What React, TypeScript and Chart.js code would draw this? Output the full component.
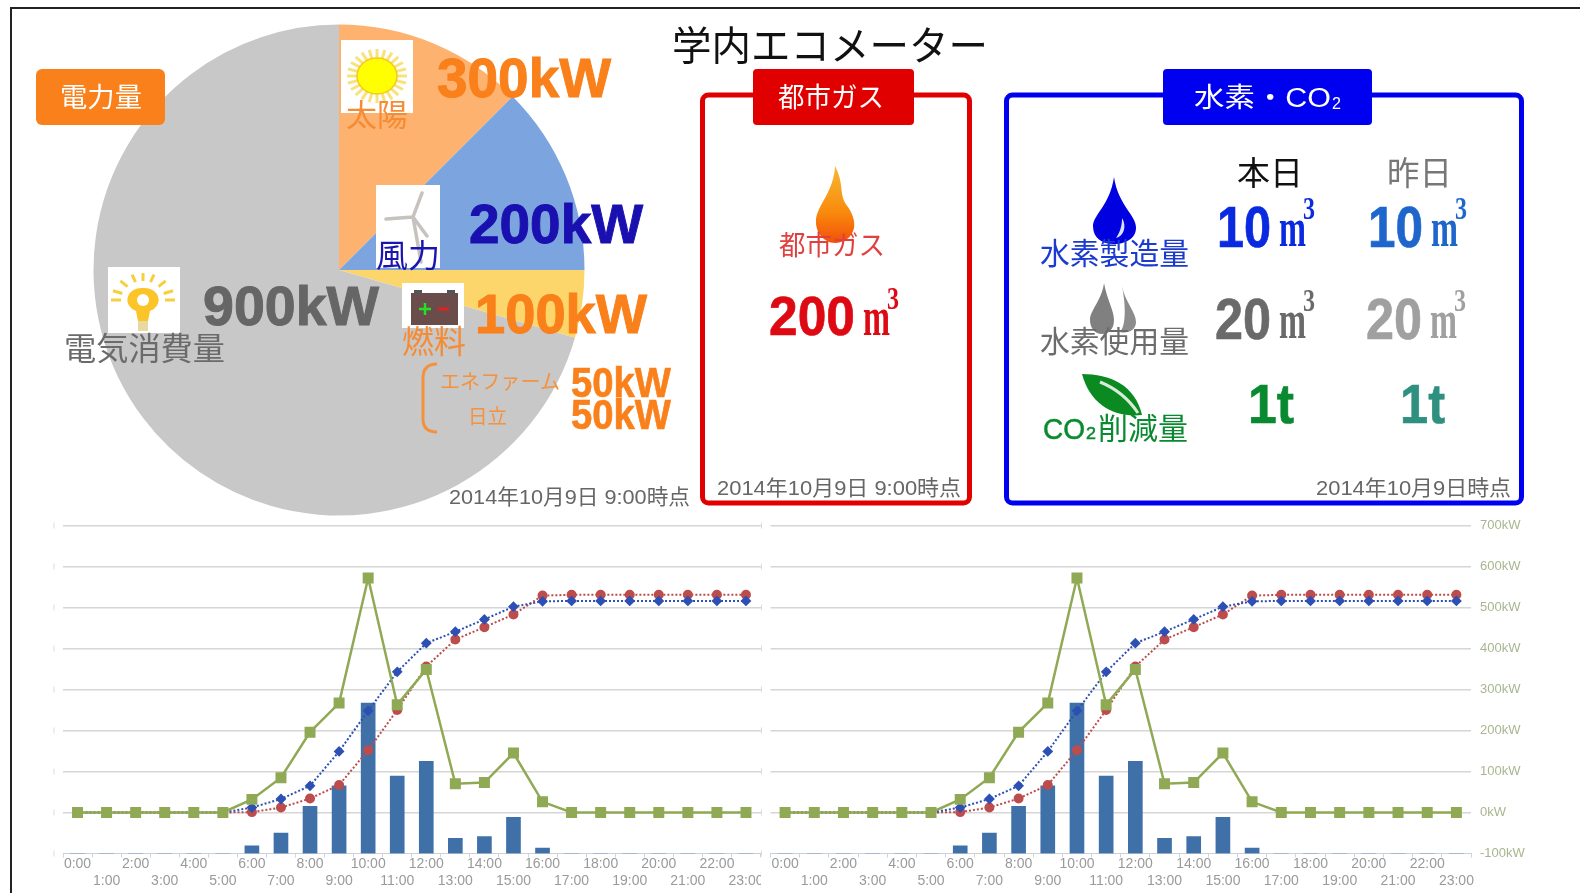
import React, { useEffect, useRef } from "react";
import { Chart, registerables } from "chart.js";

Chart.register(...registerables);

// ---- data ----
const hours = ["0:00","1:00","2:00","3:00","4:00","5:00","6:00","7:00","8:00","9:00","10:00","11:00","12:00","13:00","14:00","15:00","16:00","17:00","18:00","19:00","20:00","21:00","22:00","23:00"];
const greenLine = [0,0,0,0,0,0,32,85,196,267,572,263,349,70,73,145,26,0,0,0,0,0,0,0];
const blueLine = [0,0,0,0,0,0,12,33,65,149,248,343,413,441,471,502,515,516,516,516,516,516,516,516];
const redLine = [0,0,0,0,0,0,1,12,34,67,152,250,356,422,452,483,529,531,531,531,531,531,531,531];
const barValues = [0,0,0,0,0,0,19,50,115,165,367,189,225,37,41,88,13,0,0,0,0,0,0,0];
const pieLabels = ["太陽","風力","燃料","電気消費量"];
const pieDegrees = [45,45,16,254];
const pieColors = ["#fdb26f","#7ca5e0","#fdd66b","#c8c8c8"];
const powerTexts = ["300kW","200kW","100kW","900kW"];

const SANS = '"Liberation Sans","Noto Sans CJK JP",sans-serif';
const SERIF = '"Liberation Serif",serif';

function T({ x, w, cy, size, fill, bold, serif, sy, heavy, children }: any) {
  const scale = sy || 1;
  const by = cy + size * 0.36 * scale;
  return (
    <text
      x={0}
      y={0}
      transform={`translate(${x} ${by}) scale(1 ${scale})`}
      fontSize={size}
      fill={fill}
      stroke={heavy ? fill : "none"}
      strokeWidth={heavy || 0}
      fontWeight={bold ? 700 : 400}
      fontFamily={serif ? SERIF : SANS}
      textLength={w}
      lengthAdjust="spacingAndGlyphs"
    >
      {children}
    </text>
  );
}

function Cubic({ x, numW, cy, text, color, numSize }: any) {
  const mx = x + numW + 8;
  return (
    <g>
      <T x={x} w={numW} cy={cy} size={numSize} fill={color} bold sy={1.15} heavy={0.6}>{text}</T>
      <T x={mx} w={27} cy={cy} size={38} fill={color} serif bold sy={1.45}>m</T>
      <T x={mx + 24} w={12} cy={cy - 18} size={28} fill={color} serif bold sy={1.1}>3</T>
    </g>
  );
}

function PowerPie() {
  const ref = useRef<HTMLCanvasElement>(null);
  useEffect(() => {
    const chart = new Chart(ref.current!, {
      type: "pie",
      data: {
        labels: pieLabels,
        datasets: [{ data: pieDegrees, backgroundColor: pieColors, borderWidth: 0 }],
      },
      options: {
        responsive: false,
        animation: false,
        radius: 245.5,
        layout: { padding: 0 },
        plugins: { legend: { display: false }, tooltip: { enabled: false } },
      } as any,
    });
    return () => chart.destroy();
  }, []);
  return <canvas ref={ref} width={500} height={500} style={{ position: "absolute", left: 89, top: 20 }} />;
}

function TrendChart({ left, width, padLeft, showAxis, clipRight }: any) {
  const ref = useRef<HTMLCanvasElement>(null);
  useEffect(() => {
    const marks = {
      id: "edgeMarks",
      afterDraw(c: any) {
        const s = c.scales.y;
        const ctx = c.ctx;
        ctx.save();
        ctx.strokeStyle = "#dcdcdc";
        ctx.lineWidth = 1;
        s.ticks.forEach((t: any) => {
          const p = s.getPixelForValue(t.value);
          ctx.beginPath();
          ctx.moveTo(padLeft - 9, p - 3);
          ctx.lineTo(padLeft - 9, p + 3);
          ctx.stroke();
        });
        ctx.restore();
      },
    };
    const chart = new Chart(ref.current!, {
      type: "bar",
      data: {
        labels: hours.map((h, i) => (i % 2 === 0 ? [h, ""] : ["", h])),
        datasets: [
          { type: "line", label: "発電", data: greenLine, yAxisID: "y", order: 1, borderColor: "#8fa954", backgroundColor: "#8fa954", borderWidth: 2.5, pointStyle: "rect", pointRadius: 6, tension: 0 },
          { type: "line", label: "累積A", data: blueLine, yAxisID: "y", order: 2, borderColor: "#2d50b4", backgroundColor: "#2d50b4", borderWidth: 2, borderDash: [2, 2], pointStyle: "rectRot", pointRadius: 4, tension: 0 },
          { type: "line", label: "累積B", data: redLine, yAxisID: "y", order: 3, borderColor: "#bd4c4c", backgroundColor: "#bd4c4c", borderWidth: 2, borderDash: [2, 2], pointStyle: "circle", pointRadius: 4, tension: 0 },
          { type: "bar", label: "電力", data: barValues, yAxisID: "yBar", order: 4, backgroundColor: "#3f70a8", barThickness: 14 },
        ],
      },
      options: {
        responsive: false,
        animation: false,
        layout: { padding: { left: padLeft, top: 15.5, right: 0, bottom: 0 } },
        plugins: { legend: { display: false }, tooltip: { enabled: false } },
        scales: {
          x: {
            offset: true,
            afterFit: (s: any) => { s.height = 39.5; s.paddingLeft = 0; s.paddingRight = 0; },
            grid: { offset: true, drawOnChartArea: false, drawTicks: true, tickLength: 4, color: "#d0d6dc" },
            border: { color: "#c8d0d8" },
            ticks: { autoSkip: false, maxRotation: 0, minRotation: 0, padding: -1.5, color: "#9a9a9a", font: { family: "Liberation Sans", size: 14 } },
          },
          y: {
            position: "right",
            min: -100,
            max: 700,
            afterFit: (s: any) => { s.width = showAxis ? 109 : 0; s.paddingTop = 0; s.paddingBottom = 0; },
            grid: { drawTicks: false, color: "#d6d6d6", lineWidth: (c: any) => (c.tick && c.tick.value === -100 ? 0 : 1.6) },
            border: { display: false },
            ticks: {
              display: showAxis,
              stepSize: 100,
              padding: 9,
              color: "#a8b690",
              font: { family: "Liberation Sans", size: 13 },
              callback: (v: any) => `${v}kW`,
            },
          },
          yBar: { axis: "y", display: false, min: 0, max: 800 },
        },
      } as any,
      plugins: [marks],
    });
    return () => chart.destroy();
  }, []);
  return (
    <canvas
      ref={ref}
      width={width}
      height={383}
      style={{ position: "absolute", left, top: 510, clipPath: clipRight ? `inset(0 ${clipRight}px 0 0)` : undefined }}
    />
  );
}

function Overlay() {
  const orange = "#f9801a";
  return (
    <svg width={1580} height={893} style={{ position: "absolute", left: 0, top: 0, pointerEvents: "none" }}>
      <defs>
        <linearGradient id="flame" x1="0" y1="0" x2="0" y2="1">
          <stop offset="0" stopColor="#f7b733" />
          <stop offset="0.6" stopColor="#f98a0c" />
          <stop offset="1" stopColor="#f2500a" />
        </linearGradient>
      </defs>
      {/* frame */}
      <path d="M11 893 V8 H1580" fill="none" stroke="#222" strokeWidth={2} />

      {/* title */}
      <T x={672} w={316} cy={46} size={40} fill="#111">学内エコメーター</T>

      {/* badge power */}
      <rect x={36} y={69} width={129} height={56} rx={6} fill={orange} />
      <T x={60} w={82} cy={97} size={27} fill="#fff">電力量</T>

      {/* sun */}
      <rect x={341} y={40} width={72} height={73} fill="#fff" />
      {Array.from({ length: 24 }).map((_, i) => {
        const a = (i * Math.PI) / 12;
        return (
          <line key={i} x1={377 + Math.cos(a) * 20} y1={76 + Math.sin(a) * 18} x2={377 + Math.cos(a) * 30} y2={76 + Math.sin(a) * 27} stroke="#f8e27a" strokeWidth={3} />
        );
      })}
      <ellipse cx={377} cy={76} rx={20} ry={18} fill="#ffff00" stroke="#f4c820" strokeWidth={1.5} />
      <T x={346} w={62} cy={115} size={31} fill="#f58c35">{pieLabels[0]}</T>
      <T x={437} w={174} cy={77} size={55} fill={orange} bold heavy={1}>{powerTexts[0]}</T>

      {/* wind */}
      <rect x={376} y={185} width={64} height={83} fill="#fff" />
      <path d="M413 217 L422 193 M413 217 L386 219 M413 217 L427 236 M413 217 L421 262" stroke="#c6c2be" strokeWidth={3.5} strokeLinecap="round" fill="none" />
      <T x={376} w={64} cy={255} size={32} fill="#1a14b0">{pieLabels[1]}</T>
      <T x={469} w={174} cy={223} size={55} fill="#1a10b0" bold heavy={1}>{powerTexts[1]}</T>

      {/* bulb */}
      <rect x={108} y={267} width={72} height={66} fill="#fff" />
      {[-70, -45, -20, 0, 20, 45, 70, -90, 90].map((d) => {
        const a = ((d - 90) * Math.PI) / 180;
        return <line key={d} x1={143 + Math.cos(a) * 22} y1={300 + Math.sin(a) * 19} x2={143 + Math.cos(a) * 32} y2={300 + Math.sin(a) * 27} stroke="#f6cf3d" strokeWidth={3} />;
      })}
      <path d="M143 288 a14 12 0 0 1 7 23 l-2 10 h-10 l-2 -10 a14 12 0 0 1 7 -23 z" fill="#fbc52a" />
      <ellipse cx={143} cy={300} rx={6} ry={6} fill="#fff" />
      <rect x={138} y={321} width={10} height={10} fill="#e8d9a0" />
      <T x={64} w={161} cy={348} size={32} fill="#6b6b6b">{pieLabels[3]}</T>
      <T x={203} w={176} cy={305} size={55} fill="#666" bold heavy={1}>{powerTexts[3]}</T>

      {/* battery */}
      <rect x={402} y={283} width={62} height={45} fill="#fff" />
      <rect x={411} y={293} width={47} height={32} fill="#6a4c4a" />
      <rect x={414} y={290} width={8} height={4} fill="#555" />
      <rect x={447} y={290} width={8} height={4} fill="#555" />
      <path d="M419 309 h12 M425 303 v12" stroke="#22e022" strokeWidth={2.5} />
      <path d="M438 309 h11" stroke="#e02020" strokeWidth={3} />
      <T x={402} w={64} cy={341} size={32} fill="#f58c35">{pieLabels[2]}</T>
      <T x={475} w={172} cy={313} size={55} fill={orange} bold heavy={1}>{powerTexts[2]}</T>

      {/* fuel breakdown */}
      <path d="M437 364 Q423 364 423 378 V419 Q423 432 437 432" fill="none" stroke="#f4913f" strokeWidth={3} />
      <T x={440} w={120} cy={382} size={20} fill="#f4923f">エネファーム</T>
      <T x={468} w={39} cy={417} size={20} fill="#f4923f">日立</T>
      <T x={571} w={100} cy={382} size={38} fill={orange} bold sy={1.1} heavy={0.6}>50kW</T>
      <T x={571} w={100} cy={414} size={38} fill={orange} bold sy={1.1} heavy={0.6}>50kW</T>
      <T x={449} w={241} cy={496} size={21} fill="#666">2014年10月9日 9:00時点</T>

      {/* city gas */}
      <rect x={702.5} y={95} width={267} height={408} rx={6} fill="none" stroke="#e00000" strokeWidth={5} />
      <rect x={753} y={69} width={161} height={56} rx={4} fill="#e00000" />
      <T x={778} w={106} cy={97} size={27} fill="#fff">都市ガス</T>
      <path d="M835 166 C845 185 838 195 848 207 C853 214 855 222 854 228 C852 238 843 243 835 243 C824 243 815 232 816 220 C817 205 834 192 835 166 Z" fill="url(#flame)" />
      <T x={779} w={106} cy={245} size={27} fill="#e0403f">都市ガス</T>
      <T x={769} w={86} cy={315} size={51} fill="#dd0a14" bold sy={1.1} heavy={0.6}>200</T>
      <T x={863} w={27} cy={315} size={38} fill="#dd0a14" serif bold sy={1.45}>m</T>
      <T x={887} w={12} cy={298} size={28} fill="#dd0a14" serif bold sy={1.1}>3</T>
      <T x={717} w={244} cy={487} size={21} fill="#666">2014年10月9日 9:00時点</T>

      {/* hydrogen */}
      <rect x={1006.5} y={95} width={515} height={408} rx={6} fill="none" stroke="#0000f0" strokeWidth={5} />
      <rect x={1163} y={69} width={209} height={56} rx={4} fill="#0000f0" />
      <T x={1194} w={137} cy={97} size={27} fill="#fff">水素・CO</T>
      <T x={1332} w={9} cy={103} size={17} fill="#fff">2</T>

      <T x={1237} w={66} cy={173} size={33} fill="#111">本日</T>
      <T x={1387} w={65} cy={173} size={33} fill="#777">昨日</T>

      <path d="M1114 177 C1118 205 1136 215 1136 228 C1136 238 1126 244 1114 244 C1102 244 1093 238 1093 226 C1093 215 1110 205 1114 177 Z" fill="#0000e0" />
      <path d="M1122 218 C1127 226 1124 236 1116 238 C1120 232 1122 226 1122 218 Z" fill="#d8e0ff" />
      <T x={1040} w={149} cy={253} size={30} fill="#1a3ad0">水素製造量</T>
      <Cubic x={1217} numW={54} cy={226} text="10" color="#0a2ae0" numSize={50} />
      <Cubic x={1368} numW={55} cy={226} text="10" color="#1e66cc" numSize={50} />

      <path d="M1104 283 C1107 300 1114 310 1114 320 C1114 330 1108 334 1102 334 C1095 334 1090 328 1090 320 C1090 310 1102 300 1104 283 Z" fill="#808080" />
      <path d="M1122 286 C1125 302 1136 312 1136 322 C1136 330 1128 334 1120 332 C1126 326 1126 306 1122 286 Z" fill="#8c8c8c" />
      <T x={1040} w={149} cy={341} size={30} fill="#6c6c6c">水素使用量</T>
      <Cubic x={1215} numW={56} cy={318} text="20" color="#6a6a6a" numSize={50} />
      <Cubic x={1366} numW={56} cy={318} text="20" color="#a0a0a0" numSize={50} />

      <path d="M1082 374 C1110 374 1135 385 1142 415 C1115 418 1090 405 1082 374 Z" fill="#0a8a20" />
      <path d="M1100 382 C1115 388 1128 398 1138 413" stroke="#d8ead8" strokeWidth={3} fill="none" />
      <T x={1043} w={42} cy={428} size={30} fill="#0a8a30" heavy={0.5}>CO</T>
      <T x={1086} w={10} cy={433} size={17} fill="#0a8a30" heavy={0.5}>2</T>
      <T x={1098} w={90} cy={428} size={30} fill="#0a8a30">削減量</T>
      <T x={1248} w={46} cy={403} size={52} fill="#0a8a30" bold sy={1.08} heavy={0.6}>1t</T>
      <T x={1400} w={45} cy={403} size={52} fill="#2f9080" bold sy={1.08} heavy={0.6}>1t</T>
      <T x={1316} w={195} cy={487} size={21} fill="#666">2014年10月9日時点</T>
    </svg>
  );
}

export default function App() {
  return (
    <div style={{ position: "fixed", left: 0, top: 0, width: 1580, height: 893, background: "#fff", overflow: "hidden" }}>
      <PowerPie />
      <TrendChart left={44} width={725} padLeft={19} showAxis={false} clipRight={8} />
      <TrendChart left={761} width={819} padLeft={9.5} showAxis={true} />
      <Overlay />
    </div>
  );
}
